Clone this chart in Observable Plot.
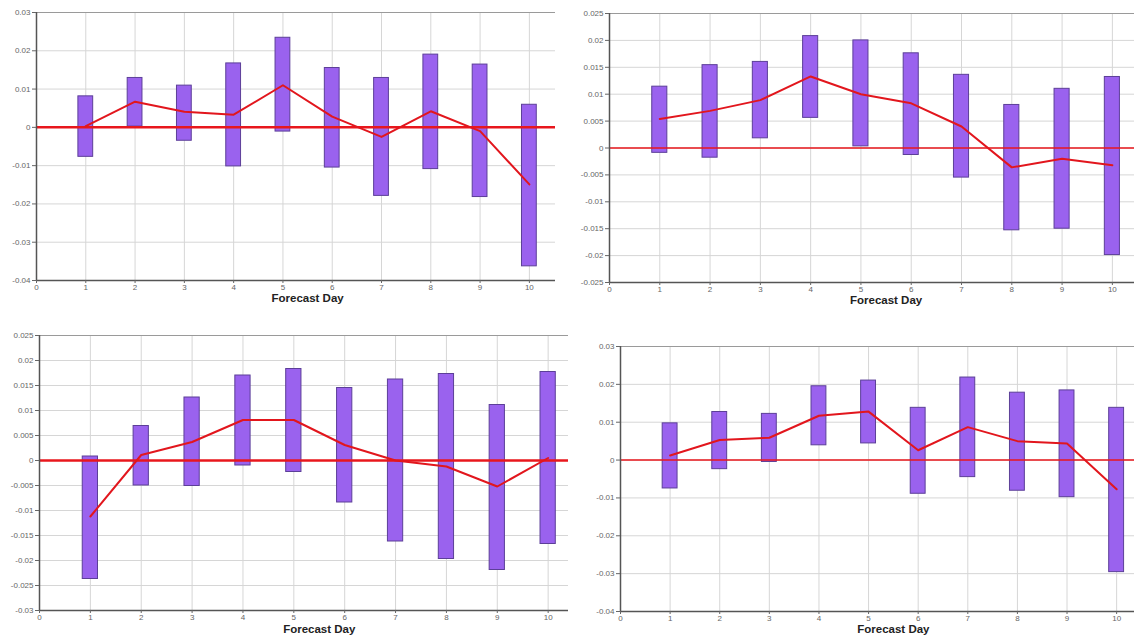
<!DOCTYPE html>
<html>
<head>
<meta charset="utf-8">
<script src="https://cdn.jsdelivr.net/npm/d3@7"></script>
<script src="https://cdn.jsdelivr.net/npm/@observablehq/plot@0.6"></script>
<style>
  html, body { margin: 0; padding: 0; background: #fff; }
  #wrap { position: relative; width: 1134px; height: 638px; overflow: hidden; background: #fff; }
  .panel { position: absolute; }
  .panel svg { display: block; }
</style>
</head>
<body>
<div id="wrap"></div>
<script>
const days = [1, 2, 3, 4, 5, 6, 7, 8, 9, 10];
const xTicks = [0, 1, 2, 3, 4, 5, 6, 7, 8, 9, 10];
const xLabel = "Forecast Day";

// Panel 1 (top left)
const p1High = [0.0081, 0.0129, 0.0109, 0.0167, 0.0234, 0.0155, 0.0129, 0.0190, 0.0164, 0.0059];
const p1Low  = [-0.0077, 0.0002, -0.0035, -0.0102, -0.0011, -0.0105, -0.0179, -0.0109, -0.0182, -0.0363];
const p1Mean = [0.0003, 0.0067, 0.0041, 0.0033, 0.0110, 0.0028, -0.0025, 0.0042, -0.0010, -0.0149];
const p1YTicks = [-0.04, -0.03, -0.02, -0.01, 0, 0.01, 0.02, 0.03];

// Panel 2 (top right)
const p2High = [0.0114, 0.0154, 0.0160, 0.0208, 0.0200, 0.0176, 0.0136, 0.0080, 0.0110, 0.0132];
const p2Low  = [-0.0009, -0.0018, 0.0018, 0.0056, 0.0003, -0.0013, -0.0055, -0.0153, -0.0150, -0.0199];
const p2Mean = [0.0054, 0.0069, 0.0089, 0.0133, 0.0100, 0.0083, 0.0040, -0.0036, -0.0020, -0.0032];
const p2YTicks = [-0.025, -0.02, -0.015, -0.01, -0.005, 0, 0.005, 0.01, 0.015, 0.02, 0.025];

// Panel 3 (bottom left)
const p3High = [0.0008, 0.0069, 0.0126, 0.0170, 0.0183, 0.0145, 0.0162, 0.0173, 0.0111, 0.0177];
const p3Low  = [-0.0237, -0.0050, -0.0051, -0.0010, -0.0023, -0.0084, -0.0162, -0.0197, -0.0219, -0.0167];
const p3Mean = [-0.0112, 0.0011, 0.0037, 0.0081, 0.0081, 0.0031, 0.0000, -0.0012, -0.0052, 0.0005];
const p3YTicks = [-0.03, -0.025, -0.02, -0.015, -0.01, -0.005, 0, 0.005, 0.01, 0.015, 0.02, 0.025];

// Panel 4 (bottom right)
const p4High = [0.0097, 0.0127, 0.0122, 0.0195, 0.0210, 0.0138, 0.0218, 0.0178, 0.0184, 0.0138];
const p4Low  = [-0.0075, -0.0024, -0.0005, 0.0039, 0.0044, -0.0089, -0.0045, -0.0081, -0.0098, -0.0296];
const p4Mean = [0.0012, 0.0053, 0.0059, 0.0117, 0.0128, 0.0026, 0.0087, 0.0050, 0.0044, -0.0077];
const p4YTicks = [-0.04, -0.03, -0.02, -0.01, 0, 0.01, 0.02, 0.03];

const fmt = d => String(+d.toFixed(4));
const halfBar = 0.15;

function panel(cfg) {
  const rows = days.map((day, i) => ({day, hi: cfg.hi[i], lo: cfg.lo[i], mean: cfg.mean[i]}));
  const yMin = d3.min(cfg.yTicks), yMax = d3.max(cfg.yTicks);
  const chart = Plot.plot({
    width: cfg.width,
    height: cfg.height,
    marginTop: cfg.mt,
    marginBottom: cfg.mb,
    marginLeft: cfg.ml,
    marginRight: cfg.mr,
    x: {domain: [0, cfg.xmax]},
    y: {domain: [yMin, yMax]},
    style: {fontFamily: "'Liberation Sans', Arial, sans-serif", fontSize: "8px", color: "#666", background: "#fff", overflow: "visible"},
    marks: [
      Plot.gridY({ticks: cfg.yTicks, stroke: "#d6d6d6", strokeOpacity: 1}),
      Plot.gridX({ticks: days, stroke: "#d6d6d6", strokeOpacity: 1}),
      Plot.ruleY([yMax], {stroke: "#9a9a9a", strokeWidth: 1.2}),
      Plot.rect(rows, {
        x1: d => d.day - halfBar, x2: d => d.day + halfBar,
        y1: "lo", y2: "hi",
        fill: "#9a62ee", stroke: "#5c3f98", strokeWidth: 1
      }),
      Plot.ruleY([0], {stroke: "#e8171d", strokeWidth: cfg.zeroW}),
      Plot.line(rows, {x: "day", y: "mean", stroke: "#e2161d", strokeWidth: 2}),
      Plot.ruleX([0], {stroke: "#555", strokeWidth: 1.5}),
      Plot.ruleY([yMin], {stroke: "#555", strokeWidth: 1.5}),
      Plot.axisY({ticks: cfg.yTicks, tickSize: 4, tickPadding: 2, tickFormat: fmt, label: null, color: "#666"}),
      Plot.axisX({ticks: xTicks, tickSize: 3, tickPadding: 1, tickFormat: d => String(d), label: null, color: "#666"}),
      Plot.text([xLabel], {x: () => 5.5, frameAnchor: "bottom", dy: cfg.labelDy, text: d => d,
        fontWeight: "bold", fontSize: 11.5, fill: "#222", fontFamily: "'Liberation Sans', Arial, sans-serif"})
    ]
  });
  const div = document.createElement("div");
  div.className = "panel";
  div.style.left = cfg.left + "px";
  div.style.top = cfg.top + "px";
  div.appendChild(chart);
  document.getElementById("wrap").appendChild(div);
}

panel({left: 0, top: 0, width: 560, height: 310, mt: 12, mb: 30, ml: 36, mr: 5, xmax: 10.53,
  yTicks: p1YTicks, hi: p1High, lo: p1Low, mean: p1Mean, zeroW: 2.5, labelDy: 21});
panel({left: 560, top: 0, width: 574, height: 310, mt: 13, mb: 28, ml: 49, mr: 0, xmax: 10.44,
  yTicks: p2YTicks, hi: p2High, lo: p2Low, mean: p2Mean, zeroW: 1.5, labelDy: 21});
panel({left: 0, top: 318, width: 570, height: 320, mt: 17, mb: 28, ml: 39, mr: 2, xmax: 10.4,
  yTicks: p3YTicks, hi: p3High, lo: p3Low, mean: p3Mean, zeroW: 2.5, labelDy: 22});
panel({left: 570, top: 318, width: 564, height: 320, mt: 28, mb: 27, ml: 50, mr: 0, xmax: 10.36,
  yTicks: p4YTicks, hi: p4High, lo: p4Low, mean: p4Mean, zeroW: 1.5, labelDy: 21});
</script>
</body>
</html>
